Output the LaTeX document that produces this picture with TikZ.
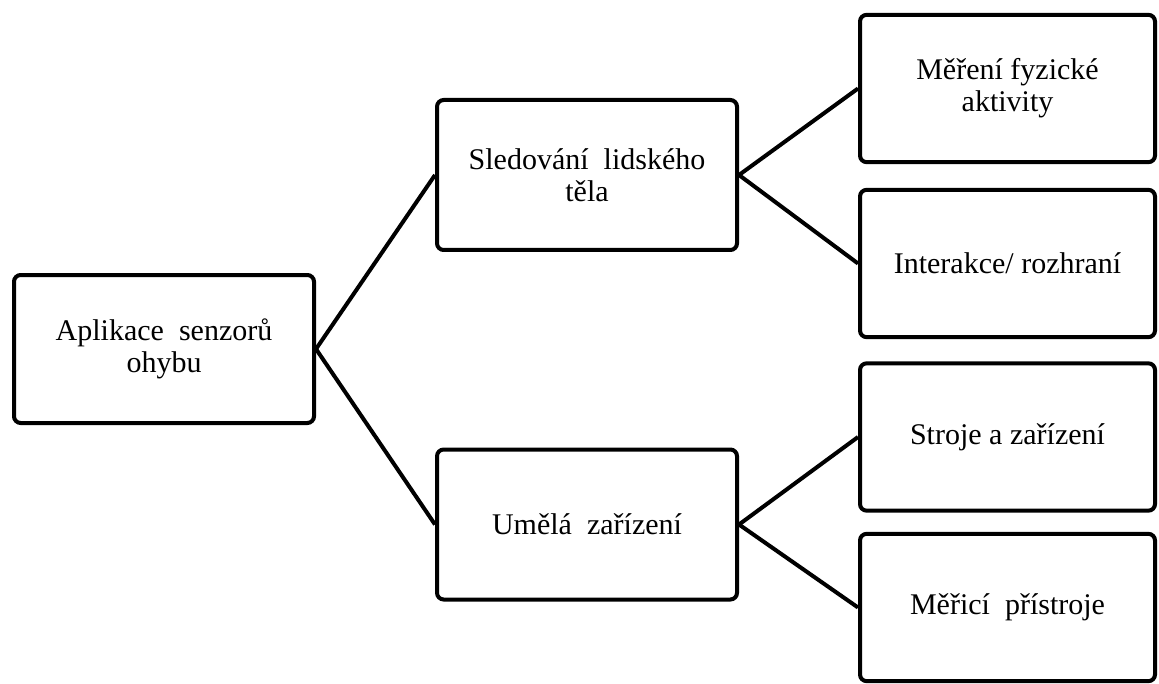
\documentclass[tikz,border=0pt]{standalone}
\usepackage{fontspec}
\setmainfont{Liberation Serif}
\begin{document}
\begin{tikzpicture}[x=0.75pt,y=-0.75pt,
  box/.style={draw=black, line width=3pt, rounded corners=5pt, align=center,
    inner sep=0pt, fill=white,
    font=\fontsize{22.5pt}{24pt}\selectfont},
  conn/.style={draw=black, line width=3pt}]
\useasboundingbox (0,0) rectangle (1159,684);
\node[box, minimum width=225pt, minimum height=111pt] (root) at (164,349) {Aplikace\ \ senzorů\\ohybu};
\node[box, minimum width=225pt, minimum height=112.5pt] (midA) at (587,175) {Sledování\ \ lidského\\těla};
\node[box, minimum width=225pt, minimum height=112.5pt] (midB) at (587,524.5) {Umělá\ \ zařízení};
\node[box, minimum width=221.25pt, minimum height=110.5pt] (r1) at (1007.5,88.5) {Měření fyzické\\aktivity};
\node[box, minimum width=221.25pt, minimum height=110.5pt] (r2) at (1007.5,263.5) {Interakce/ rozhraní};
\node[box, minimum width=221.25pt, minimum height=110.5pt] (r3) at (1007.5,437) {Stroje a zařízení};
\node[box, minimum width=221.25pt, minimum height=110.5pt] (r4) at (1007.5,607.5) {Měřicí\ \ přístroje};
\draw[conn] (root.east) -- (midA.west);
\draw[conn] (root.east) -- (midB.west);
\draw[conn] (midA.east) -- (r1.west);
\draw[conn] (midA.east) -- (r2.west);
\draw[conn] (midB.east) -- (r3.west);
\draw[conn] (midB.east) -- (r4.west);
\end{tikzpicture}
\end{document}
